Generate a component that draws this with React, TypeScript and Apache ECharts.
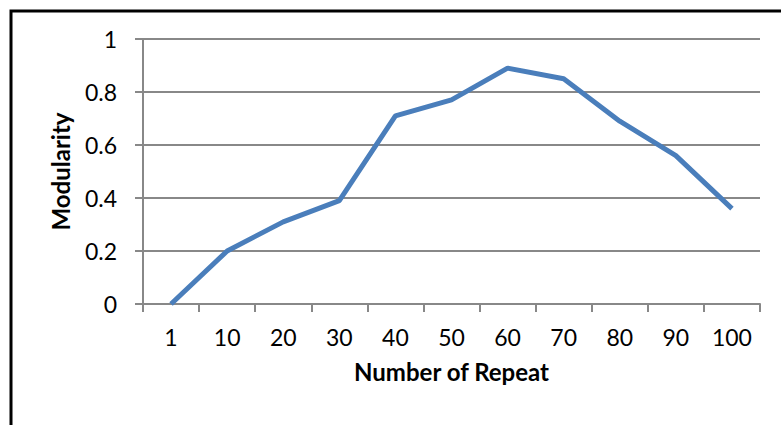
import React, { useEffect, useRef } from "react";
import * as echarts from "echarts";

const categories = ["1", "10", "20", "30", "40", "50", "60", "70", "80", "90", "100"];
const modularity = [0, 0.2, 0.31, 0.39, 0.71, 0.77, 0.89, 0.85, 0.69, 0.56, 0.36];
const yTicks = { min: 0, max: 1, interval: 0.2 };
const xTitle = "Number of Repeat";
const yTitle = "Modularity";

const FONT = "Lato";

export default function App() {
  const ref = useRef<HTMLDivElement>(null);
  useEffect(() => {
    if (!ref.current) return;
    const chart = echarts.init(ref.current, null, { renderer: "svg" });
    chart.setOption({
      animation: false,
      backgroundColor: "#ffffff",
      textStyle: { fontFamily: FONT },
      grid: { left: 143, right: 21, top: 39, bottom: 121, containLabel: false },
      xAxis: {
        type: "category",
        data: categories,
        boundaryGap: true,
        name: xTitle,
        nameLocation: "middle",
        nameGap: 55,
        nameTextStyle: { fontFamily: FONT, fontSize: 24, fontWeight: "bold", color: "#000" },
        axisLine: { show: true, lineStyle: { color: "#888888", width: 2 } },
        axisTick: { show: true, length: 8, lineStyle: { color: "#888888", width: 2 } },
        axisLabel: { margin: 21, fontFamily: FONT, fontSize: 23, color: "#000" },
        splitLine: { show: false },
      },
      yAxis: {
        type: "value",
        min: yTicks.min,
        max: yTicks.max,
        interval: yTicks.interval,
        name: yTitle,
        nameLocation: "middle",
        nameGap: 71,
        nameTextStyle: { fontFamily: FONT, fontSize: 24, fontWeight: "bold", color: "#000" },
        axisLine: { show: true, lineStyle: { color: "#888888", width: 2 } },
        axisTick: { show: true, length: 8, lineStyle: { color: "#888888", width: 2 } },
        axisLabel: { margin: 26, fontFamily: FONT, fontSize: 23, color: "#000" },
        splitLine: { show: true, lineStyle: { color: "#888888", width: 2 } },
      },
      series: [
        {
          type: "line",
          data: modularity,
          symbol: "none",
          lineStyle: { color: "#4a7ebb", width: 5 },
          itemStyle: { color: "#4a7ebb" },
        },
      ],
      graphic: [
        {
          type: "polyline",
          shape: { points: [[11, 425], [11, 11], [781, 11]] },
          style: { stroke: "#000", lineWidth: 3, fill: "none" },
          silent: true,
        },
      ],
    });
    return () => chart.dispose();
  }, []);
  return (
    <div
      ref={ref}
      style={{ position: "absolute", left: 0, top: 0, width: 781, height: 425 }}
    />
  );
}
